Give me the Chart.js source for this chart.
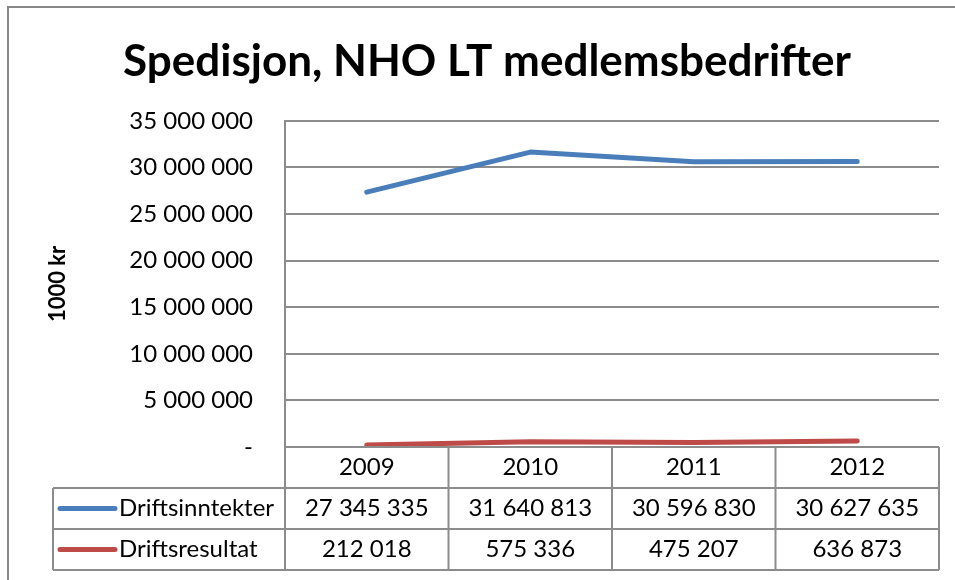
<!DOCTYPE html>
<html>
<head>
<meta charset="utf-8">
<script src="https://cdn.jsdelivr.net/npm/chart.js@4"></script>
<style>
  body { margin: 0; background: #fff; }
</style>
</head>
<body>
<canvas id="chart" width="955" height="580"></canvas>
<script>
const years = ['2009', '2010', '2011', '2012']
const driftsinntekter = [27345335, 31640813, 30596830, 30627635]
const driftsresultat = [212018, 575336, 475207, 636873]
const yMax = 35000000
const yStep = 5000000

const BLUE = '#4a7ebb'
const RED = '#be4b48'
const GRID = '#8c8c8c'
const FONT = 'Lato'

const fmt = (n) => String(n).replace(/\B(?=(\d{3})+(?!\d))/g, ' ')

// outer frame of the chart object
const frame = {
  id: 'frame',
  beforeDraw(chart) {
    const ctx = chart.ctx
    ctx.save()
    ctx.fillStyle = '#fff'
    ctx.fillRect(0, 0, chart.width, chart.height)
    ctx.strokeStyle = '#878787'
    ctx.lineWidth = 2
    ctx.strokeRect(8, 7, 2000, 2000)
    ctx.restore()
  }
}

// Excel style data table under the plot
const dataTable = {
  id: 'dataTable',
  afterDraw(chart) {
    const { ctx, chartArea } = chart
    const x = chart.scales.x
    const rowH = (x.bottom - x.top) / 3
    const colW = (chartArea.right - chartArea.left) / years.length
    const tableLeft = 53
    const top = x.top

    ctx.save()
    ctx.strokeStyle = GRID
    ctx.lineWidth = 2
    ctx.beginPath()
    ctx.moveTo(chartArea.left, top)
    ctx.lineTo(chartArea.right, top)
    for (let r = 1; r <= 3; r++) {
      ctx.moveTo(tableLeft, top + rowH * r)
      ctx.lineTo(chartArea.right, top + rowH * r)
    }
    for (let i = 0; i <= years.length; i++) {
      const px = chartArea.left + colW * i
      ctx.moveTo(px, top)
      ctx.lineTo(px, top + rowH * 3)
    }
    ctx.moveTo(tableLeft, top + rowH)
    ctx.lineTo(tableLeft, top + rowH * 3)
    ctx.stroke()

    ctx.font = '24px ' + FONT
    ctx.fillStyle = '#000'
    ctx.textBaseline = 'middle'
    chart.data.datasets.forEach((ds, r) => {
      const cy = top + rowH * (r + 1.5)
      ctx.strokeStyle = ds.borderColor
      ctx.lineWidth = 5
      ctx.lineCap = 'round'
      ctx.beginPath()
      ctx.moveTo(60, cy)
      ctx.lineTo(115, cy)
      ctx.stroke()
      ctx.textAlign = 'left'
      ctx.fillText(ds.label, 119, cy)
      ctx.textAlign = 'center'
      ds.data.forEach((v, i) => {
        ctx.fillText(fmt(v), x.getPixelForValue(i), cy)
      })
    })
    ctx.restore()
  }
}

new Chart(document.getElementById('chart'), {
  type: 'line',
  data: {
    labels: years,
    datasets: [
      {
        label: 'Driftsinntekter',
        data: driftsinntekter,
        borderColor: BLUE,
        backgroundColor: BLUE,
      },
      {
        label: 'Driftsresultat',
        data: driftsresultat,
        borderColor: RED,
        backgroundColor: RED,
      }
    ]
  },
  options: {
    responsive: false,
    animation: false,
    devicePixelRatio: 1,
    layout: { padding: { left: 35, right: 16, top: 0, bottom: 10 } },
    elements: {
      line: { borderWidth: 5, tension: 0, borderCapStyle: 'round', borderJoinStyle: 'round' },
      point: { radius: 0, hoverRadius: 0 }
    },
    plugins: {
      legend: { display: false },
      tooltip: { enabled: false },
      title: {
        display: true,
        text: 'Spedisjon, NHO LT medlemsbedrifter',
        color: '#000',
        font: { family: FONT, size: 44, weight: 'bold', lineHeight: 1.2 },
        padding: { top: 35, bottom: 33 }
      }
    },
    scales: {
      x: {
        offset: true,
        grid: { display: false, drawTicks: false },
        border: { display: false },
        ticks: {
          color: '#000',
          font: { family: FONT, size: 24, lineHeight: 1.2 },
          padding: 6,
          maxRotation: 0
        },
        afterFit: (s) => { s.height = 123 }
      },
      y: {
        min: 0,
        max: yMax,
        grid: { color: GRID, lineWidth: 2, drawTicks: false },
        border: { display: true, color: GRID, width: 2 },
        ticks: {
          stepSize: yStep,
          color: '#000',
          font: { family: FONT, size: 24 },
          padding: 32,
          callback: (v) => v === 0 ? '-' : fmt(v)
        },
        title: {
          display: true,
          text: '1000 kr',
          color: '#000',
          font: { family: FONT, size: 22, weight: 'bold', lineHeight: 1.2 },
          padding: { top: 10, bottom: 0 }
        },
        afterFit: (s) => { s.width = 250 }
      }
    }
  },
  plugins: [frame, dataTable]
})
</script>
</body>
</html>
